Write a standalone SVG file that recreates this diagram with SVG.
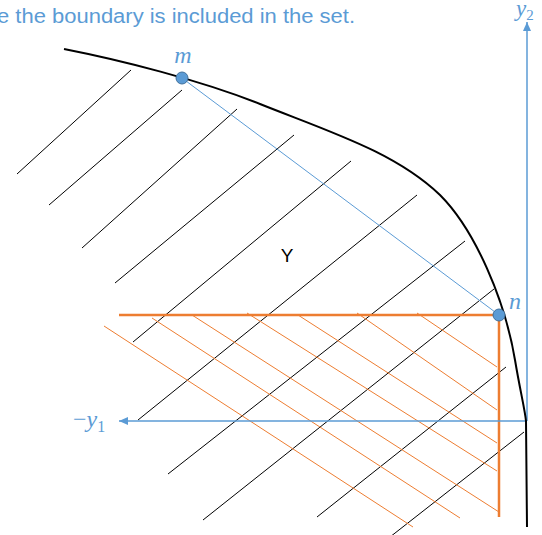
<svg xmlns="http://www.w3.org/2000/svg" width="542" height="535" viewBox="0 0 542 535">
<defs>
<marker id="arr" markerUnits="userSpaceOnUse" markerWidth="10" markerHeight="10" refX="9" refY="5" orient="auto"><path d="M0,1 L9,5 L0,9 Z" fill="#5B9BD5"/></marker>
</defs>
<style>
.title{font-family:"Liberation Sans",Arial,sans-serif;font-size:20px;fill:#5B9BD5}
.math{font-family:"Liberation Serif","DejaVu Serif",serif;font-style:italic;fill:#5B9BD5}
.lbl{font-family:"Liberation Sans",Arial,sans-serif;font-size:19px;fill:#000}
.hb{stroke:#000;stroke-width:1;fill:none}
.ho{stroke:#ED7D31;stroke-width:1;fill:none}
.axis{stroke:#5B9BD5;stroke-width:1.5;fill:none}
.pt{fill:#5B9BD5;stroke:#41719C;stroke-width:1}
</style>
<rect width="542" height="535" fill="#fff"/>
<text class="title" x="-3" y="23" textLength="358" lengthAdjust="spacingAndGlyphs">e the boundary is included in the set.</text>

<g id="hatch-black">
<line class="hb" x1="131" y1="70" x2="17" y2="174"/>
<line class="hb" x1="182" y1="90" x2="49" y2="205"/>
<line class="hb" x1="237" y1="109" x2="82" y2="248"/>
<line class="hb" x1="294" y1="135" x2="115" y2="283"/>
<line class="hb" x1="351" y1="161" x2="133" y2="342"/>
<line class="hb" x1="417" y1="195" x2="138" y2="420"/>
<line class="hb" x1="465" y1="241" x2="168" y2="474"/>
<line class="hb" x1="494" y1="289" x2="203" y2="520"/>
<line class="hb" x1="506" y1="367" x2="317" y2="517"/>
<line class="hb" x1="524" y1="432" x2="390" y2="537"/>
</g>

<g id="hatch-orange">
<line class="ho" x1="104" y1="326" x2="413" y2="527"/>
<line class="ho" x1="152" y1="318" x2="460" y2="518"/>
<line class="ho" x1="192" y1="315" x2="499" y2="512"/>
<line class="ho" x1="247" y1="313" x2="497" y2="471"/>
<line class="ho" x1="298" y1="315" x2="497" y2="443"/>
<line class="ho" x1="357" y1="313" x2="497" y2="410"/>
<line class="ho" x1="417" y1="313" x2="497" y2="367"/>
</g>

<g id="dominated-region">
<path d="M119,315 H499 V517" fill="none" stroke="#ED7D31" stroke-width="2.5"/>
</g>

<g id="connectors">
<line x1="182" y1="78" x2="499" y2="315" stroke="#5B9BD5" stroke-width="1"/>
<line class="axis" x1="527" y1="421" x2="527" y2="22" marker-end="url(#arr)"/>
<line class="axis" x1="527" y1="421" x2="119" y2="421" marker-end="url(#arr)"/>
</g>

<g id="boundary">
<path d="M64,49 C120,60 200,80 260,104 C330,132 395,152 440,195 C475,230 505,300 515,360 C520,390 525,410 526,421 L527,527" fill="none" stroke="#000" stroke-width="2"/>
</g>

<g id="point-m">
<circle class="pt" cx="182" cy="78" r="6"/>
<text class="math" x="183" y="63" font-size="24" text-anchor="middle">m</text>
</g>
<g id="point-n">
<circle class="pt" cx="499" cy="315" r="6"/>
<text class="math" x="509" y="309" font-size="24">n</text>
</g>
<g id="set-label">
<text class="lbl" x="287" y="262" text-anchor="middle">Y</text>
</g>
<g id="axis-labels">
<text class="math" x="516" y="16" font-size="23">y<tspan font-size="15" font-style="normal" dy="4">2</tspan></text>
<text class="math" x="73" y="427" font-size="24"><tspan font-style="normal">−</tspan>y<tspan font-size="16" font-style="normal" dy="5">1</tspan></text>
</g>
</svg>
